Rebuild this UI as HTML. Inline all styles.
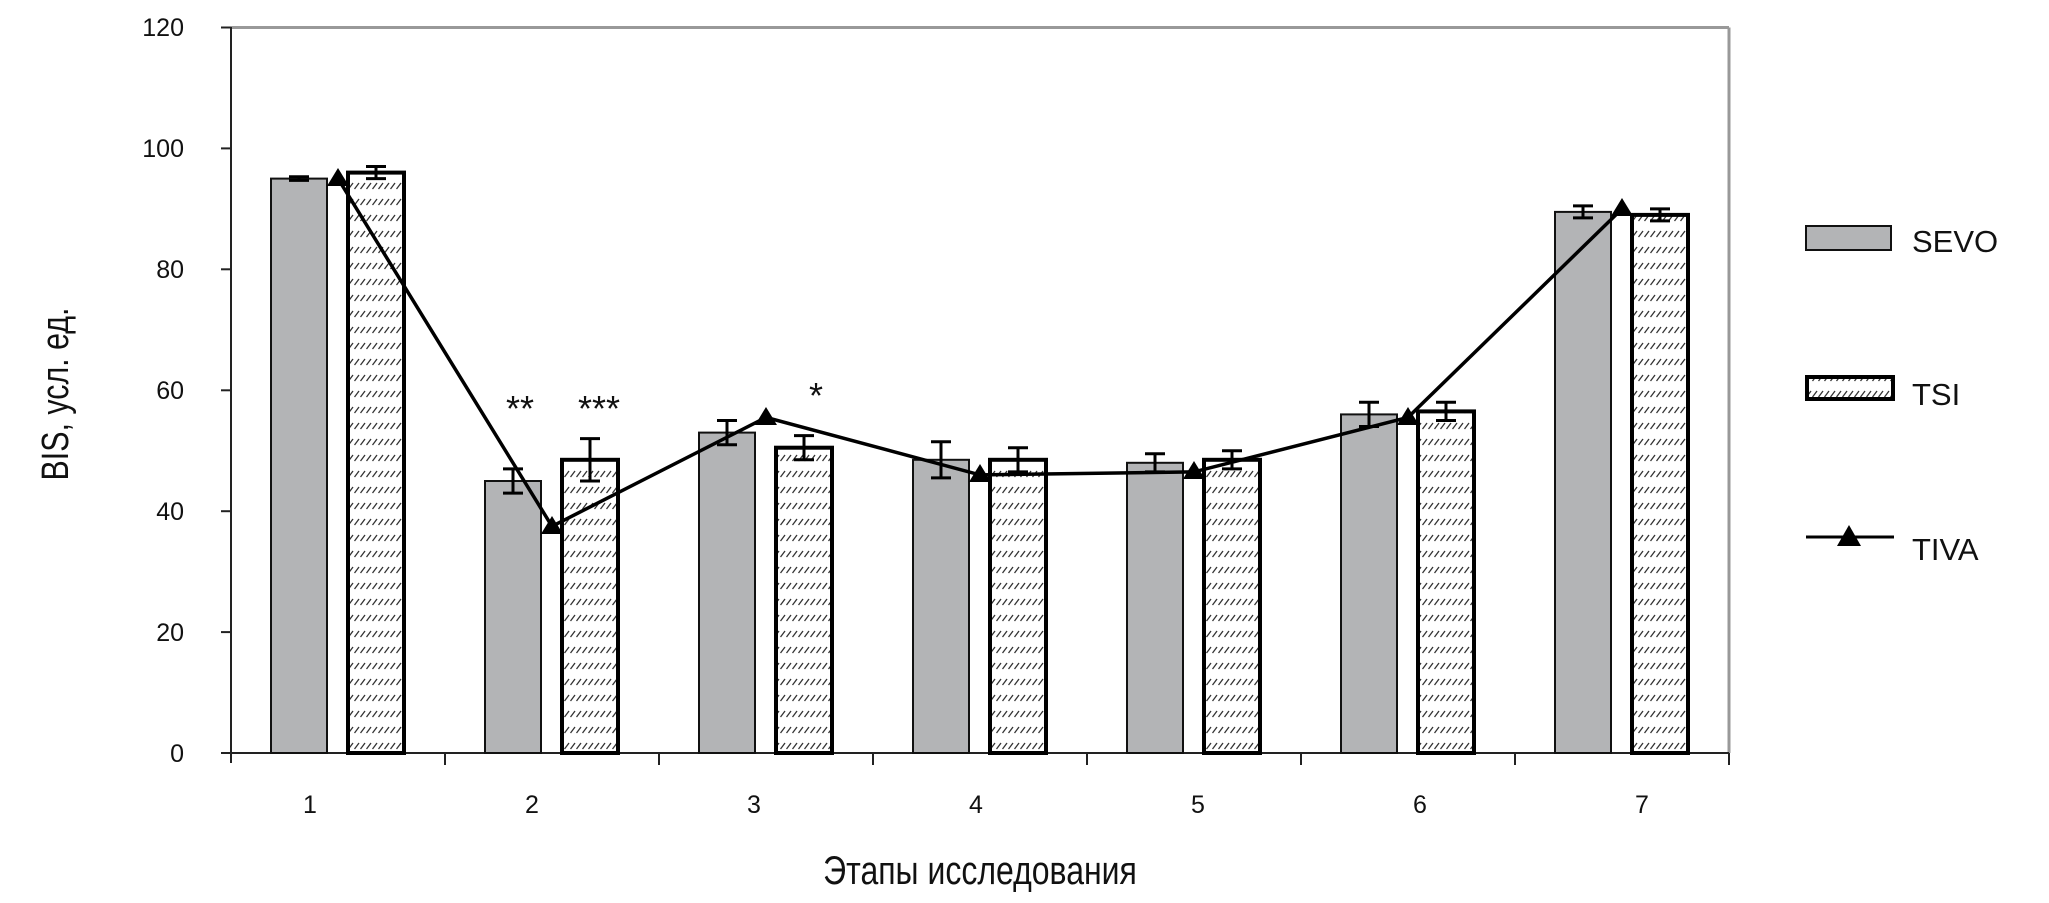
<!DOCTYPE html>
<html><head><meta charset="utf-8"><style>
html,body{margin:0;padding:0;background:#fff;}
svg{display:block;}
text{font-family:"Liberation Sans",sans-serif;fill:#111;}
</style></head><body>
<svg width="2049" height="903" viewBox="0 0 2049 903" xmlns="http://www.w3.org/2000/svg">
<defs>
<pattern id="h" patternUnits="userSpaceOnUse" width="6" height="16">
<rect width="6" height="16" fill="#fff"/>
<line x1="0.5" y1="13" x2="5" y2="7" stroke="#333" stroke-width="1.3"/>
</pattern>
</defs>
<line x1="231" y1="27.5" x2="1729" y2="27.5" stroke="#999" stroke-width="3"/>
<line x1="1729" y1="27.5" x2="1729" y2="753" stroke="#999" stroke-width="3"/>
<line x1="231" y1="27" x2="231" y2="763" stroke="#222" stroke-width="2"/>
<line x1="221" y1="753" x2="1729" y2="753" stroke="#222" stroke-width="2"/>
<g stroke="#222" stroke-width="2">
<line x1="221" y1="27.5" x2="231" y2="27.5"/><line x1="221" y1="148.4" x2="231" y2="148.4"/>
<line x1="221" y1="269.3" x2="231" y2="269.3"/><line x1="221" y1="390.3" x2="231" y2="390.3"/>
<line x1="221" y1="511.2" x2="231" y2="511.2"/><line x1="221" y1="632.1" x2="231" y2="632.1"/>
<line x1="445" y1="753" x2="445" y2="765"/><line x1="659" y1="753" x2="659" y2="765"/>
<line x1="873" y1="753" x2="873" y2="765"/><line x1="1087" y1="753" x2="1087" y2="765"/>
<line x1="1301" y1="753" x2="1301" y2="765"/><line x1="1515" y1="753" x2="1515" y2="765"/>
<line x1="1729" y1="753" x2="1729" y2="765"/>
</g>
<g font-size="25" text-anchor="end">
<text x="184" y="36">120</text><text x="184" y="157">100</text><text x="184" y="278">80</text>
<text x="184" y="399">60</text><text x="184" y="520">40</text><text x="184" y="641">20</text><text x="184" y="762">0</text>
</g>
<g font-size="25" text-anchor="middle">
<text x="310" y="813">1</text><text x="532" y="813">2</text><text x="754" y="813">3</text>
<text x="976" y="813">4</text><text x="1198" y="813">5</text><text x="1420" y="813">6</text><text x="1642" y="813">7</text>
</g>
<text transform="translate(68,394) rotate(-90) scale(0.8,1)" font-size="38" text-anchor="middle">BIS, усл. ед.</text>
<text transform="translate(980,884) scale(0.8,1)" font-size="40" text-anchor="middle">Этапы исследования</text>

<g stroke="#111" stroke-width="2" fill="#b3b4b6">
<rect x="271" y="178.6" width="56" height="574.4"/>
<rect x="485" y="481" width="56" height="272"/>
<rect x="699" y="432.6" width="56" height="320.4"/>
<rect x="913" y="459.8" width="56" height="293.2"/>
<rect x="1127" y="462.8" width="56" height="290.2"/>
<rect x="1341" y="414.4" width="56" height="338.6"/>
<rect x="1555" y="211.9" width="56" height="541.1"/>
</g>
<g stroke="#000" stroke-width="4" fill="url(#h)">
<rect x="348" y="172.6" width="56" height="580.4"/>
<rect x="562" y="459.8" width="56" height="293.2"/>
<rect x="776" y="447.7" width="56" height="305.3"/>
<rect x="990" y="459.8" width="56" height="293.2"/>
<rect x="1204" y="459.8" width="56" height="293.2"/>
<rect x="1418" y="411.4" width="56" height="341.6"/>
<rect x="1632" y="214.9" width="56" height="538.1"/>
</g>
<g stroke="#000" stroke-width="3" fill="none">
<path d="M289 176.8h20M289 180.4h20M299 176.8v3.6"/>
<path d="M366 166.5h20M366 178.6h20M376 166.5v12.1"/>
<path d="M503 468.9h20M503 493.1h20M513 468.9v24.2"/>
<path d="M580 438.6h20M580 481h20M590 438.6v42.4"/>
<path d="M717 420.5h20M717 444.7h20M727 420.5v24.2"/>
<path d="M794 435.6h20M794 459.8h20M804 435.6v24.2"/>
<path d="M931 441.7h20M931 477.9h20M941 441.7v36.2"/>
<path d="M1008 447.7h20M1008 471.9h20M1018 447.7v24.2"/>
<path d="M1145 453.7h20M1145 471.9h20M1155 453.7v18.2"/>
<path d="M1222 450.7h20M1222 468.9h20M1232 450.7v18.2"/>
<path d="M1359 402.3h20M1359 426.5h20M1369 402.3v24.2"/>
<path d="M1436 402.3h20M1436 420.5h20M1446 402.3v18.2"/>
<path d="M1573 205.9h20M1573 217.9h20M1583 205.9v12"/>
<path d="M1650 208.9h20M1650 220.9h20M1660 208.9v12"/>
</g>
<polyline points="338,178.6 552,526.3 766,417.4 980,474.9 1194,471.9 1408,417.4 1622,208.9" fill="none" stroke="#000" stroke-width="3.5"/>
<g fill="#000">
<polygon points="338,168 327,186 349,186"/>
<polygon points="552,516 541,534 563,534"/>
<polygon points="766,407 755,425 777,425"/>
<polygon points="980,464 969,482 991,482"/>
<polygon points="1194,461 1183,479 1205,479"/>
<polygon points="1408,407 1397,425 1419,425"/>
<polygon points="1622,198 1611,216 1633,216"/>
</g>
<g font-size="36" text-anchor="middle">
<text x="520" y="421">**</text><text x="599" y="421">***</text><text x="816" y="408">*</text>
</g>
<rect x="1806" y="226" width="85" height="24" fill="#b3b4b6" stroke="#111" stroke-width="2"/>
<text x="1912" y="252" font-size="31">SEVO</text>
<rect x="1807" y="377" width="86" height="22" fill="url(#h)" stroke="#000" stroke-width="4"/>
<text x="1912" y="405" font-size="31">TSI</text>
<line x1="1806" y1="537" x2="1894" y2="537" stroke="#000" stroke-width="3"/>
<polygon points="1849,525 1837,546 1861,546" fill="#000"/>
<text x="1912" y="560" font-size="31">TIVA</text>
</svg>
</body></html>
